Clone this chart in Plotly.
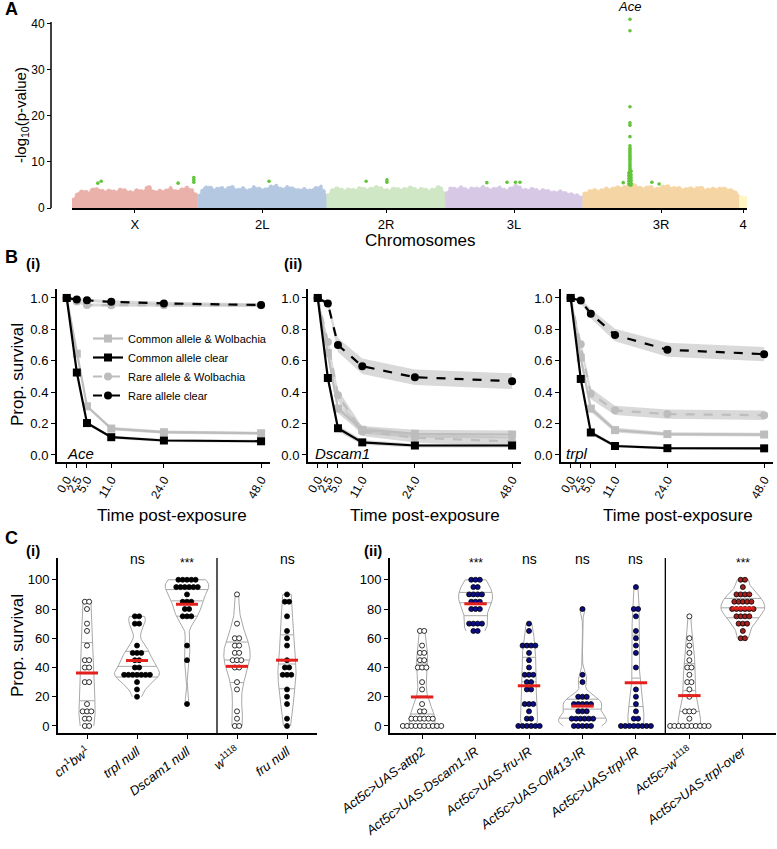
import numpy as np
import plotly.graph_objects as go

W, H = 777, 849
def fx(px): return px / W
def fy(py): return 1 - py / H

FONT = "Liberation Sans, Arial, Helvetica, sans-serif"

# ======================= Panel A data (Manhattan) =======================
chrom_names = ["X", "2L", "2R", "3L", "3R", "4"]
chrom_len_mb = [22.4, 23.0, 21.1, 24.5, 27.9, 1.35]
chrom_colors = ["#EAB0AA", "#B5C8E2", "#CFE7C4", "#D7C9E6", "#F6D5A4", "#FFF6C4"]
# upper envelope of the dense point cloud (-log10 p), evenly along each chromosome
env_X = [1.6, 3.3, 3.9, 3.5, 4.4, 4.1, 3.7, 4.0, 3.6, 4.3, 3.8, 3.5, 4.1, 3.7, 5.0, 3.6, 3.9, 3.8, 4.5, 3.7, 4.2, 4.6, 4.0, 2.6]
env_2L = [2.4, 4.4, 4.8, 4.1, 4.6, 4.2, 4.9, 4.0, 4.5, 3.9, 4.7, 4.3, 4.1, 4.8, 5.0, 4.2, 4.7, 4.4, 4.0, 4.3, 3.9, 4.5, 4.8, 2.8]
env_2R = [2.6, 4.2, 4.5, 3.9, 4.3, 4.0, 4.6, 4.1, 4.4, 4.8, 4.2, 3.9, 4.5, 4.1, 4.3, 4.7, 4.0, 4.4, 3.9, 4.2, 4.9, 3.2]
env_3L = [3.0, 4.6, 4.2, 4.7, 4.0, 4.5, 4.3, 4.8, 4.1, 4.4, 4.6, 3.9, 4.5, 5.1, 4.2, 4.0, 4.4, 3.8, 4.1, 3.7, 3.5, 3.8, 3.3, 3.1, 2.9, 2.4]
env_3R = [3.1, 3.7, 4.1, 3.8, 4.4, 4.2, 4.7, 4.5, 5.0, 5.3, 4.6, 4.4, 4.9, 4.2, 4.7, 5.0, 4.4, 4.6, 4.1, 4.5, 4.3, 4.7, 4.0, 4.4, 4.2, 4.5, 4.1, 3.9, 2.8]
env_4 = [2.3, 2.6, 2.2]

# significant SNPs (green): chromosome, position (Mb), -log10 p
sig_chrom = ["X", "X", "X", "X", "X", "X", "2L", "2R", "2R", "2R", "3L", "3L", "3L", "3L", "3R", "3R", "3R"]
sig_pos = [4.6, 5.2, 18.9, 21.7, 21.7, 21.7, 12.7, 7.0, 10.7, 10.7, 7.4, 11.0, 12.5, 13.3, 7.2, 12.3, 13.6]
sig_val = [5.4, 5.8, 5.4, 6.6, 6.1, 5.6, 5.8, 5.8, 6.1, 5.6, 5.5, 5.6, 5.6, 5.6, 5.5, 5.6, 5.2]
ace_pos = [8.4, 8.4, 8.4, 8.4, 8.4, 8.4, 8.4, 8.4, 8.4, 8.4, 8.4, 8.4, 8.4, 8.4, 8.4, 8.4, 8.4, 8.4, 8.4, 8.4,
           8.4, 8.4, 8.4, 8.4, 8.4, 8.4, 8.4, 8.4, 8.2, 8.2, 8.2, 8.2, 8.2, 8.6, 8.6, 8.6, 8.6, 8.6, 8.6]
ace_val = [41.0, 38.5, 22.0, 18.5, 18.0, 15.5, 13.5, 13.0, 12.6, 12.2, 11.8, 11.4, 11.0, 10.6, 10.2, 9.8,
           9.4, 9.0, 8.6, 8.2, 7.8, 7.4, 7.0, 6.6, 6.2, 5.8, 5.4, 5.0, 7.6, 7.0, 6.4, 5.8, 5.2, 8.0, 7.2,
           6.6, 6.0, 5.4, 5.0]
ace_label = "Ace"

# ======================= Panel B data (survival curves) =======================
times = [0, 2.5, 5, 11, 24, 48]
time_labels = ["0.0", "2.5", "5.0", "11.0", "24.0", "48.0"]
series_names = ["Common allele & Wolbachia", "Common allele clear", "Rare allele & Wolbachia", "Rare allele clear"]
genes = ["Ace", "Dscam1", "trpl"]

ace_common_wol = [1.0, 0.645, 0.31, 0.168, 0.145, 0.138]
ace_common_clear = [1.0, 0.525, 0.203, 0.113, 0.092, 0.087]
ace_rare_wol = [1.0, 0.978, 0.955, 0.954, 0.954, 0.953]
ace_rare_clear = [1.0, 0.99, 0.985, 0.975, 0.965, 0.955]

dscam_common_wol = [1.0, 0.65, 0.295, 0.16, 0.135, 0.13]
dscam_common_clear = [1.0, 0.49, 0.17, 0.08, 0.06, 0.06]
dscam_rare_wol = [1.0, 0.72, 0.38, 0.15, 0.11, 0.085]
dscam_rare_clear = [1.0, 0.965, 0.70, 0.565, 0.495, 0.47]

trpl_common_wol = [1.0, 0.62, 0.295, 0.158, 0.133, 0.13]
trpl_common_clear = [1.0, 0.484, 0.143, 0.057, 0.043, 0.042]
trpl_rare_wol = [1.0, 0.705, 0.39, 0.284, 0.26, 0.253]
trpl_rare_clear = [1.0, 0.983, 0.90, 0.764, 0.67, 0.642]

# half-width of the grey confidence ribbons
ace_ci = [[0, 0.01, 0.01, 0.01, 0.01, 0.01]] * 4
dscam_ci = [[0, 0.03, 0.03, 0.025, 0.025, 0.025], [0, 0.03, 0.02, 0.015, 0.012, 0.012],
            [0, 0.03, 0.035, 0.03, 0.03, 0.03], [0, 0.02, 0.045, 0.05, 0.05, 0.05]]
trpl_ci = [[0, 0.03, 0.02, 0.015, 0.012, 0.012], [0, 0.03, 0.015, 0.01, 0.008, 0.008],
           [0, 0.03, 0.035, 0.03, 0.03, 0.03], [0, 0.015, 0.03, 0.04, 0.045, 0.045]]

# ======================= Panel C data (violin + dot plots) =======================
c1_labels = ["<i>cn</i><sup>1</sup><i>bw</i><sup>1</sup>", "<i>trpl null</i>", "<i>Dscam1 null</i>",
             "<i>w</i><sup>1118</sup>", "<i>fru null</i>"]
c1_cn_bw = [85, 85, 80, 70, 65, 55, 45, 45, 40, 40, 30, 30, 15, 10, 10, 10, 5, 5, 0, 0]
c1_trpl_null = [75, 75, 70, 70, 55, 50, 50, 50, 45, 45, 40, 40, 35, 35, 35, 35, 35, 35, 35, 30, 25, 20]
c1_dscam1_null = [100, 100, 100, 100, 100, 95, 95, 95, 95, 95, 95, 90, 85, 85, 85, 80, 80, 75, 75, 75, 55, 45, 15]
c1_w1118 = [90, 70, 60, 60, 55, 55, 50, 50, 45, 45, 45, 40, 40, 30, 25, 10, 5, 0, 0]
c1_fru_null = [90, 85, 85, 75, 65, 60, 55, 45, 40, 40, 35, 35, 35, 25, 20, 15, 5, 0]
c1_signif = ["", "ns", "***", "", "ns"]

c2_labels = ["<i>Act5c>UAS-attp2</i>", "<i>Act5c>UAS-Dscam1-IR</i>", "<i>Act5c>UAS-fru-IR</i>",
             "<i>Act5c>UAS-Olf413-IR</i>", "<i>Act5c>UAS-trpl-IR</i>", "<i>Act5c>w</i><sup>1118</sup>",
             "<i>Act5c>UAS-trpl-over</i>"]
c2_attp2 = [65, 65, 55, 50, 50, 45, 45, 40, 40, 40, 30, 25, 15, 10, 10, 5, 5, 5, 5, 5, 5, 0, 0, 0, 0, 0, 0, 0, 0, 0, 0]
c2_dscam1_ir = [100, 100, 100, 95, 95, 90, 90, 90, 90, 85, 85, 85, 80, 80, 80, 70, 70, 70, 70, 65, 65]
c2_fru_ir = [70, 65, 55, 55, 55, 55, 50, 45, 40, 35, 35, 35, 30, 30, 25, 25, 15, 15, 15, 10, 5, 5, 0, 0, 0, 0, 0, 0]
c2_olf413_ir = [80, 35, 30, 20, 20, 20, 15, 15, 15, 15, 15, 10, 10, 10, 5, 5, 5, 5, 5, 5, 0, 0, 0, 0, 0]
c2_trpl_ir = [95, 80, 80, 75, 65, 60, 55, 50, 40, 25, 20, 15, 10, 5, 5, 0, 0, 0, 0, 0, 0, 0, 0]
c2_w1118 = [75, 60, 55, 50, 45, 40, 40, 35, 30, 30, 25, 20, 10, 10, 10, 5, 0, 0, 0, 0, 0, 0, 0, 0, 0, 0]
c2_trpl_over = [100, 100, 95, 90, 90, 90, 90, 85, 85, 85, 85, 85, 80, 80, 80, 80, 80, 80, 75, 75, 75, 75,
                70, 70, 70, 65, 60, 60]
c2_signif = ["", "***", "ns", "ns", "ns", "", "***"]

# ======================= Build figure =======================
fig = go.Figure()
annotations = []
shapes = []

# ---------- Panel A ----------
offsets = np.concatenate([[0.0], np.cumsum(chrom_len_mb)[:-1]])
total_mb = float(np.sum(chrom_len_mb))
off_map = dict(zip(chrom_names, offsets))
for name, L, off, col, env in zip(chrom_names, chrom_len_mb, offsets,
                                  chrom_colors, [env_X, env_2L, env_2R, env_3L, env_3R, env_4]):
    pos = off + np.linspace(0, L, len(env))
    xs = [off] + list(pos) + [off + L]
    ys = [0] + list(env) + [0]
    fig.add_trace(go.Scatter(x=xs, y=ys, mode="lines", fill="toself", fillcolor=col,
                             line=dict(width=0.5, color=col), xaxis="x", yaxis="y",
                             hoverinfo="skip", showlegend=False))
    fig.add_trace(go.Scatter(x=list(pos), y=list(env), mode="lines",
                             line=dict(width=2.4, color=col, dash="dot"), xaxis="x", yaxis="y",
                             hoverinfo="skip", showlegend=False))
sx = [off_map[c] + p for c, p in zip(sig_chrom, sig_pos)] + [off_map["3R"] + p for p in ace_pos]
sy = list(sig_val) + list(ace_val)
fig.add_trace(go.Scatter(x=sx, y=sy, mode="markers", marker=dict(size=3.6, color="#62C43A"),
                         xaxis="x", yaxis="y", cliponaxis=False, hoverinfo="skip", showlegend=False))
chrom_mid = [o + L / 2 for o, L in zip(offsets, chrom_len_mb)]
annotations.append(dict(x=off_map["3R"] + ace_pos[0], y=fy(16), xref="x", yref="paper", yanchor="bottom",
                        text="<i>%s</i>" % ace_label, showarrow=False, font=dict(size=13)))
# y-axis line of panel A (stops at 40.4 while the axis range reaches the top SNP)
A_YMAX_LINE = 40.4
A_YTOP = 42.0
shapes.append(dict(type="line", xref="paper", yref="y", x0=fx(51), x1=fx(51), y0=0, y1=A_YMAX_LINE,
                   line=dict(color="black", width=1.5)))

# ---------- Panel B ----------
b_data = [
    [ace_common_wol, ace_common_clear, ace_rare_wol, ace_rare_clear],
    [dscam_common_wol, dscam_common_clear, dscam_rare_wol, dscam_rare_clear],
    [trpl_common_wol, trpl_common_clear, trpl_rare_wol, trpl_rare_clear],
]
b_ci = [ace_ci, dscam_ci, trpl_ci]
s_color = ["#BDBDBD", "#000000", "#BDBDBD", "#000000"]
s_dash = ["solid", "solid", "dash", "dash"]
s_symbol = ["square", "square", "circle", "circle"]
gene_label_x = [-0.4, -1.2, -1.6]
for k in range(3):
    xa, ya = "x%d" % (k + 2), "y%d" % (k + 2)
    for s in range(4):
        v = np.array(b_data[k][s]); c = np.array(b_ci[k][s])
        up, lo = v + c, v - c
        fig.add_trace(go.Scatter(x=list(times) + list(times[::-1]), y=list(up) + list(lo[::-1]),
                                 mode="lines", fill="toself", fillcolor="rgba(185,185,185,0.55)",
                                 line=dict(width=0), xaxis=xa, yaxis=ya, hoverinfo="skip",
                                 showlegend=False))
    for s in [0, 2, 1, 3]:
        fig.add_trace(go.Scatter(x=times, y=b_data[k][s], mode="lines+markers", name=series_names[s],
                                 line=dict(color=s_color[s], width=2.2, dash=s_dash[s]),
                                 marker=dict(symbol=s_symbol[s], size=8, color=s_color[s]),
                                 xaxis=xa, yaxis=ya, showlegend=(k == 0), legendrank=s + 1,
                                 cliponaxis=False, hoverinfo="skip"))
    annotations.append(dict(x=gene_label_x[k], y=0.012, xref=xa, yref=ya, xanchor="left",
                            text="<i>%s</i>" % genes[k], showarrow=False, font=dict(size=15)))


# ---------- Panel C ----------
def nrd0(x):
    x = np.asarray(x, float)
    hi = np.std(x, ddof=1)
    q75, q25 = np.percentile(x, [75, 25])
    lo = min(hi, (q75 - q25) / 1.34)
    if lo <= 0:
        lo = hi if hi > 0 else 1.0
    return 0.9 * lo * len(x) ** -0.2


def kde(x):
    x = np.asarray(x, float)
    bw = nrd0(x)
    grid = np.linspace(x.min(), x.max(), 512)
    d = np.exp(-0.5 * ((grid[:, None] - x[None, :]) / bw) ** 2).sum(1) / (len(x) * bw * np.sqrt(2 * np.pi))
    return grid, d


def draw_violins(groups, fills, xa, ya, dot_step, bar_half):
    dens = [kde(g) for g in groups]
    dmax = max(d.max() for _, d in dens)
    for i, (g, (grid, d)) in enumerate(zip(groups, dens)):
        hw = 0.45 * d / dmax
        fig.add_trace(go.Scatter(x=list(i + hw) + list((i - hw)[::-1]), y=list(grid) + list(grid[::-1]),
                                 mode="lines", fill="toself", fillcolor="white",
                                 line=dict(color="#A8A8A8", width=1), xaxis=xa, yaxis=ya,
                                 hoverinfo="skip", showlegend=False))
        cum = np.cumsum(d) / np.sum(d)
        qx, qy = [], []
        for q in (0.25, 0.5, 0.75):
            yq = np.interp(q, cum, grid)
            wq = np.interp(yq, grid, hw)
            qx += [i - wq, i + wq, None]
            qy += [yq, yq, None]
        fig.add_trace(go.Scatter(x=qx, y=qy, mode="lines", line=dict(color="#A8A8A8", width=1),
                                 xaxis=xa, yaxis=ya, hoverinfo="skip", showlegend=False))
        vals, counts = np.unique(g, return_counts=True)
        dx, dy = [], []
        for v, c in zip(vals, counts):
            for j in range(c):
                dx.append(i + (j - (c - 1) / 2) * dot_step)
                dy.append(v)
        fig.add_trace(go.Scatter(x=dx, y=dy, mode="markers",
                                 marker=dict(size=5, color=fills[i], line=dict(color="black", width=0.8)),
                                 xaxis=xa, yaxis=ya, cliponaxis=False, hoverinfo="skip", showlegend=False))
        m = float(np.mean(g))
        fig.add_trace(go.Scatter(x=[i - bar_half, i + bar_half], y=[m, m], mode="lines",
                                 line=dict(color="#E3201B", width=3), xaxis=xa, yaxis=ya,
                                 hoverinfo="skip", showlegend=False))


c1_groups = [c1_cn_bw, c1_trpl_null, c1_dscam1_null, c1_w1118, c1_fru_null]
c1_fill = ["white", "black", "black", "white", "black"]
draw_violins(c1_groups, c1_fill, "x5", "y5", 0.086, 0.22)
c2_groups = [c2_attp2, c2_dscam1_ir, c2_fru_ir, c2_olf413_ir, c2_trpl_ir, c2_w1118, c2_trpl_over]
c2_fill = ["white", "#0C0C84", "#0C0C84", "#0C0C84", "#0C0C84", "white", "#A8201E"]
draw_violins(c2_groups, c2_fill, "x6", "y6", 0.08, 0.21)

for xa_, ya_, sig in (("x5", "y5", c1_signif), ("x6", "y6", c2_signif)):
    for i, s in enumerate(sig):
        if s:
            annotations.append(dict(x=i, y=114 if s == "ns" else 111.5, xref=xa_, yref=ya_, text=s,
                                    showarrow=False, font=dict(size=14 if s == "ns" else 12)))
shapes.append(dict(type="line", xref="x5", yref="y5 domain", x0=2.6, x1=2.6, y0=0, y1=1,
                   line=dict(color="black", width=1.3)))
shapes.append(dict(type="line", xref="x6", yref="y6 domain", x0=4.55, x1=4.55, y0=0, y1=1,
                   line=dict(color="black", width=1.3)))

# ---------- axes ----------
ax_common = dict(showgrid=False, zeroline=False, showline=True, linecolor="black", ticks="outside",
                 tickcolor="black", ticklen=4, tickwidth=1.2, color="black", automargin=False)
a_px_per_unit = (208 - 22) / A_YMAX_LINE
lay = dict(
    xaxis=dict(ax_common, domain=[fx(72), fx(747)], range=[0, total_mb], anchor="y",
               tickvals=chrom_mid, ticktext=chrom_names, linewidth=2, ticklen=3,
               tickfont=dict(size=13)),
    yaxis=dict(ax_common, domain=[fy(208), fy(208 - A_YTOP * a_px_per_unit)], range=[0, A_YTOP],
               anchor="free", position=fx(51), showline=False,
               tickvals=[0, 10, 20, 30, 40], tickfont=dict(size=12)),
)
b_dom = [(57, 270), (308, 521), (561, 773)]
for k, (a, b) in enumerate(b_dom):
    n = k + 2
    lay["xaxis%d" % n] = dict(ax_common, domain=[fx(a), fx(b)], range=[-2.4, 50.2], anchor="y%d" % n,
                              tickvals=times, ticktext=time_labels, tickangle=-60, linewidth=2,
                              tickfont=dict(size=12))
    lay["yaxis%d" % n] = dict(ax_common, domain=[fy(462), fy(289)], range=[-0.045, 1.057],
                              anchor="x%d" % n, tickvals=[0, 0.2, 0.4, 0.6, 0.8, 1.0],
                              ticktext=["0.0", "0.2", "0.4", "0.6", "0.8", "1.0"], linewidth=2,
                              tickfont=dict(size=13))
lay["xaxis5"] = dict(ax_common, domain=[fx(58), fx(317)], range=[-0.58, 4.6], anchor="y5",
                     tickvals=list(range(5)), ticktext=c1_labels, tickangle=-37, linewidth=2,
                     tickfont=dict(size=13))
lay["yaxis5"] = dict(ax_common, domain=[fy(733), fy(558)], range=[-4.8, 114.9], anchor="x5",
                     tickvals=[0, 20, 40, 60, 80, 100], linewidth=2, tickfont=dict(size=13))
lay["xaxis6"] = dict(ax_common, domain=[fx(390), fx(776)], range=[-0.6, 6.62], anchor="y6",
                     tickvals=list(range(7)), ticktext=c2_labels, tickangle=-37, linewidth=2,
                     tickfont=dict(size=13))
lay["yaxis6"] = dict(ax_common, domain=[fy(733), fy(558)], range=[-4.8, 114.9], anchor="x6",
                     tickvals=[0, 20, 40, 60, 80, 100], linewidth=2, tickfont=dict(size=13))

# ---------- text annotations ----------
def ann(text, x, y, size, bold=False, angle=0, xanchor="center"):
    annotations.append(dict(text=("<b>%s</b>" % text) if bold else text, x=fx(x), y=fy(y),
                            xref="paper", yref="paper", showarrow=False, textangle=angle,
                            xanchor=xanchor, yanchor="middle", font=dict(size=size)))

ann("A", 3, 9, 18, bold=True, xanchor="left")
ann("-log<sub>10</sub>(p-value)", 22, 115, 15, angle=-90)
ann("Chromosomes", 421, 240, 17)
ann("B", 3, 257, 18, bold=True, xanchor="left")
ann("(i)", 33, 263, 15, bold=True)
ann("(ii)", 293, 263, 15, bold=True)
ann("Prop. survival", 17, 375, 17, angle=-90)
for cx in (172, 425, 678):
    ann("Time post-exposure", cx, 515, 17)
ann("C", 3, 538, 18, bold=True, xanchor="left")
ann("(i)", 33, 550, 15, bold=True)
ann("(ii)", 373, 550, 15, bold=True)
ann("Prop. survival", 17, 646, 17, angle=-90)

fig.update_layout(
    width=W, height=H, autosize=False, margin=dict(l=0, r=0, t=0, b=0, pad=0),
    paper_bgcolor="white", plot_bgcolor="white",
    font=dict(family=FONT, color="black", size=13),
    annotations=annotations, shapes=shapes,
    legend=dict(x=fx(88), y=fy(324), xanchor="left", yanchor="top", bgcolor="rgba(0,0,0,0)",
                font=dict(size=11), tracegroupgap=0, itemwidth=30),
    **lay,
)
fig.write_html("out.html", config=dict(displayModeBar=False),
               post_script="document.body.style.margin='0px';document.body.style.overflow='hidden';")
